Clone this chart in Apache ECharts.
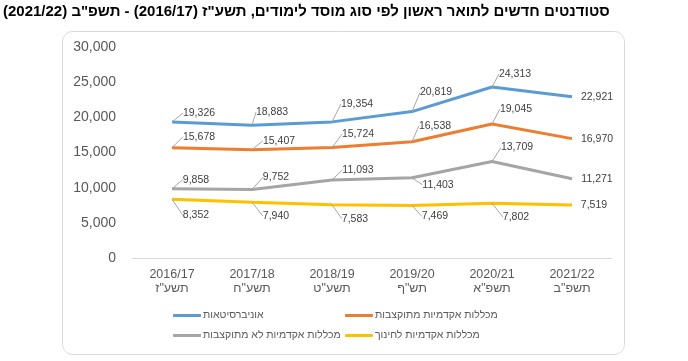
<!DOCTYPE html>
<html><head><meta charset="utf-8">
<script src="https://cdn.jsdelivr.net/npm/echarts@6/dist/echarts.min.js"></script>
<style>html,body{margin:0;padding:0;background:#fff}#c{width:688px;height:361px}</style>
</head><body><div id="c"></div>
<script>
var categories = ['2016/17\nתשע"ז','2017/18\nתשע"ח','2018/19\nתשע"ט','2019/20\nתש"ף','2020/21\nתשפ"א','2021/22\nתשפ"ב'];
var seriesNames = ['אוניברסיטאות','מכללות אקדמיות מתוקצבות','מכללות אקדמיות לא מתוקצבות','מכללות אקדמיות לחינוך'];
var universities = [19326, 18883, 19354, 20819, 24313, 22921];
var budgetedColleges = [15678, 15407, 15724, 16538, 19045, 16970];
var nonBudgetedColleges = [9858, 9752, 11093, 11403, 13709, 11271];
var educationColleges = [8352, 7940, 7583, 7469, 7802, 7519];
var yTicks = {min: 0, max: 30000, interval: 5000};

var colors = ['#5B9BD5', '#ED7D31', '#A5A5A5', '#FFC000'];
var values = [universities, budgetedColleges, nonBudgetedColleges, educationColleges];
// label offsets (label centre relative to point)
var offsets = [
  [[27,-9],[20,-13],[25,-18],[24,-19],[23,-13],[25,0]],
  [[27,-11],[27,-9],[26,-13],[23,-16],[24,-15],[25,0]],
  [[24,-9],[24,-12],[26,-10],[26,7],[25,-14],[25,0]],
  [[24,16],[24,14],[23,14],[23,11],[24,14],[22,0]]
];
var font = "'Liberation Sans', Arial, sans-serif";

var series = values.map(function(vals, s){
  return {
    name: seriesNames[s],
    type: 'line',
    data: vals.map(function(v, i){
      return {value: v, labelLine: {show: i < vals.length - 1}};
    }),
    symbol: 'circle',
    symbolSize: 0.1,
    showSymbol: true,
    lineStyle: {color: colors[s], width: 3},
    itemStyle: {color: colors[s]},
    label: {
      show: true, position: 'inside', fontSize: 10.5, fontFamily: font, color: '#404040',
      formatter: function(p){ return p.value.toLocaleString('en-US'); }
    },
    labelLine: {show: true, lineStyle: {color: '#a6a6a6', width: 1}},
    labelLayout: function(p){
      var o = offsets[s][p.dataIndex];
      return {dx: o[0], dy: o[1]};
    },
    emphasis: {disabled: true},
    animation: false
  };
});

var legendPos = [[173,310],[345,310],[173,330],[345,330]];
var legends = seriesNames.map(function(n, i){
  return {
    data: [n], left: legendPos[i][0], top: legendPos[i][1], padding: 0,
    icon: 'roundRect', itemWidth: 28, itemHeight: 3, itemGap: 0,
    textStyle: {fontSize: 10.5, fontFamily: font, color: '#595959', padding: [0,0,0,-3]},
    selectedMode: false
  };
});

var chart = echarts.init(document.getElementById('c'), null, {renderer: 'canvas'});
chart.setOption({
  animation: false,
  color: colors,
  title: {
    text: '\u202Bסטודנטים חדשים לתואר ראשון לפי סוג מוסד לימודים, תשע"ז (2016/17) - תשפ"ב (2021/22)\u202C',
    left: 3, top: 4, padding: 0,
    textStyle: {fontSize: 15, fontWeight: 'bold', fontFamily: font, color: '#000'}
  },
  graphic: [{
    type: 'rect', z: -1, silent: true,
    shape: {x: 62.5, y: 31.5, width: 562, height: 323, r: 10},
    style: {fill: 'none', stroke: '#d9d9d9', lineWidth: 1}
  }],
  legend: legends,
  grid: {left: 132, right: 76, top: 47, bottom: 103},
  xAxis: {
    type: 'category', data: categories, boundaryGap: true,
    axisLine: {lineStyle: {color: '#d9d9d9'}},
    axisTick: {show: false},
    axisLabel: {color: '#595959', fontSize: 12.5, fontFamily: font, lineHeight: 14, margin: 10, interval: 0}
  },
  yAxis: {
    type: 'value', min: yTicks.min, max: yTicks.max, interval: yTicks.interval,
    axisLine: {show: false}, axisTick: {show: false}, splitLine: {show: false},
    axisLabel: {color: '#595959', fontSize: 14, fontFamily: font, margin: 16,
      formatter: function(v){ return v.toLocaleString('en-US'); }}
  },
  series: series
});
</script>
</body></html>
